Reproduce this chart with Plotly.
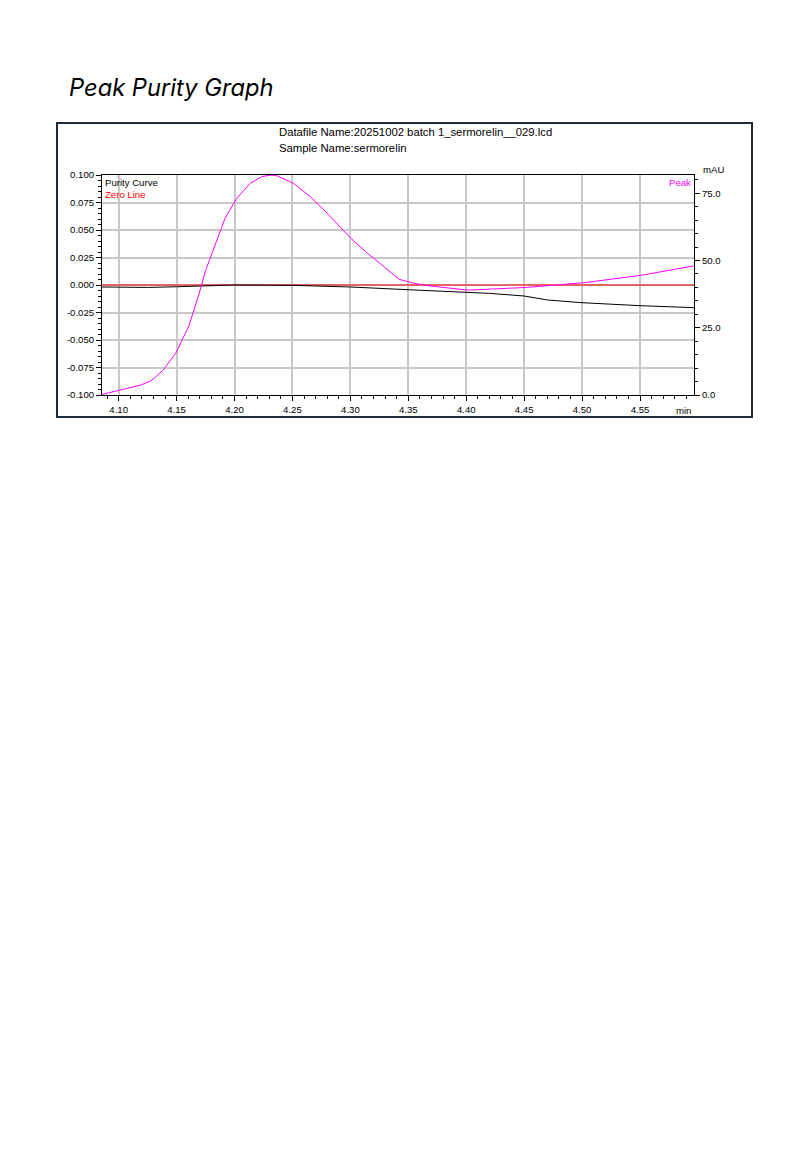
import plotly.graph_objects as go
import numpy as np

# ---------------- data ----------------
peak_time = [4.0856, 4.100, 4.119, 4.128, 4.1385, 4.1495, 4.1606, 4.1686, 4.1752, 4.1816,
             4.1918, 4.2019, 4.2135, 4.2236, 4.2320, 4.2366, 4.2510, 4.2655, 4.2786, 4.3003,
             4.3148, 4.3422, 4.3552, 4.3697, 4.4016, 4.4522, 4.5028, 4.5520, 4.5966]
peak_mau = [0.2, 1.6, 3.7, 5.3, 9.3, 15.7, 25.7, 36.5, 46.5, 53.9,
            65.7, 73.1, 78.7, 81.2, 81.8, 81.5, 78.7, 73.7, 68.2, 58.3,
            52.7, 43.0, 41.5, 40.5, 39.0, 40.0, 41.8, 44.6, 48.0]

purity_time = [4.0856, 4.100, 4.125, 4.150, 4.165, 4.180, 4.200, 4.250, 4.300, 4.350,
               4.400, 4.420, 4.450, 4.470, 4.500, 4.550, 4.5966]
purity_val = [-0.0018, -0.0020, -0.0022, -0.0016, -0.0010, -0.0003, 0.0000, -0.0003, -0.0018, -0.0043,
              -0.0066, -0.0076, -0.0100, -0.0136, -0.0161, -0.0188, -0.0206]

zero_time = [4.0856, 4.5966]
zero_val = [0.0, 0.0]

x_ticks = [4.10, 4.15, 4.20, 4.25, 4.30, 4.35, 4.40, 4.45, 4.50, 4.55]
x_labels = ["4.10", "4.15", "4.20", "4.25", "4.30", "4.35", "4.40", "4.45", "4.50", "4.55"]
y_ticks = [-0.100, -0.075, -0.050, -0.025, 0.000, 0.025, 0.050, 0.075, 0.100]
y_labels = ["-0.100", "-0.075", "-0.050", "-0.025", "0.000", "0.025", "0.050", "0.075", "0.100"]
y2_ticks = [0, 25, 50, 75]
y2_labels = ["0.0", "25.0", "50.0", "75.0"]

x_range = [4.0856, 4.5966]
y_range = [-0.100, 0.100]
y2_range = [0, 81.8]

datafile = "Datafile Name:20251002 batch 1_sermorelin__029.lcd"
sample = "Sample Name:sermorelin"

# ---------------- layout helpers ----------------
W, H = 810, 1170
L, R, T, B = 102, 694, 175, 395


def px(x):
    return (x - L) / (R - L)


def py(y):
    return (B - y) / (B - T)


FONT = "Liberation Sans, Arial, sans-serif"
tickfont = dict(family=FONT, size=9.6, color="black")

fig = go.Figure()

fig.add_trace(go.Scatter(x=zero_time, y=zero_val, mode="lines",
                         line=dict(color="#ff0000", width=1), name="Zero Line",
                         yaxis="y"))
fig.add_trace(go.Scatter(x=purity_time, y=purity_val, mode="lines",
                         line=dict(color="black", width=1), name="Purity Curve",
                         yaxis="y"))
fig.add_trace(go.Scatter(x=peak_time, y=peak_mau, mode="lines",
                         line=dict(color="#ff00ff", width=1), name="Peak",
                         yaxis="y2"))

x_minor = [round(v, 2) for v in np.arange(4.09, 4.60, 0.01)]
y_minor = [round(v, 3) for v in np.arange(-0.100, 0.1001, 0.005)]
y2_minor = list(range(0, 85, 5))

fig.update_layout(
    width=W, height=H, autosize=False,
    margin=dict(l=L, r=W - R, t=T, b=H - B, pad=0),
    paper_bgcolor="white", plot_bgcolor="white",
    showlegend=False,
    xaxis=dict(range=x_range, tickmode="array", tickvals=x_ticks, ticktext=x_labels,
               ticks="outside", ticklen=5, tickcolor="black", tickwidth=1,
               tickfont=tickfont,
               showgrid=True, gridcolor="#c8c8c8", gridwidth=2,
               showline=True, linecolor="black", linewidth=1, mirror=True,
               zeroline=False,
               minor=dict(tickmode="array", tickvals=x_minor, ticks="outside",
                          ticklen=3, tickcolor="black", showgrid=False)),
    yaxis=dict(range=y_range, tickmode="array", tickvals=y_ticks, ticktext=y_labels,
               ticks="outside", ticklen=5, tickcolor="black", tickwidth=1,
               tickfont=tickfont,
               showgrid=True, gridcolor="#c8c8c8", gridwidth=2,
               showline=True, linecolor="black", linewidth=1,
               zeroline=False,
               minor=dict(tickmode="array", tickvals=y_minor, ticks="outside",
                          ticklen=3, tickcolor="black", showgrid=False)),
    yaxis2=dict(range=y2_range, overlaying="y", side="right",
                tickmode="array", tickvals=y2_ticks, ticktext=y2_labels,
                ticks="outside", ticklen=5, tickcolor="black", tickwidth=1,
                tickfont=tickfont, showgrid=False, zeroline=False,
                showline=True, linecolor="black", linewidth=1,
                minor=dict(tickmode="array", tickvals=y2_minor, ticks="outside",
                           ticklen=3, tickcolor="black", showgrid=False)),
)

# outer frame
fig.add_shape(type="rect", xref="paper", yref="paper",
              x0=px(57), x1=px(752), y0=py(417), y1=py(123),
              line=dict(color="#1c2b3a", width=2), fillcolor="rgba(0,0,0,0)", layer="above")

ann = []
ann.append(dict(text="Peak Purity Graph", x=px(67), y=py(88), xanchor="left", yanchor="middle",
                font=dict(family="Inter, Noto Sans, sans-serif", size=23.7, color="black", style="italic")))
ann.append(dict(text=datafile, x=px(277), y=py(132), xanchor="left", yanchor="middle",
                font=dict(family=FONT, size=11.3, color="black")))
ann.append(dict(text=sample, x=px(277), y=py(147.5), xanchor="left", yanchor="middle",
                font=dict(family=FONT, size=11.3, color="black")))
ann.append(dict(text="Purity Curve", x=px(103), y=py(182), xanchor="left", yanchor="middle",
                font=dict(family=FONT, size=9.6, color="black")))
ann.append(dict(text="Zero Line", x=px(103), y=py(194), xanchor="left", yanchor="middle",
                font=dict(family=FONT, size=9.6, color="#ff0000")))
ann.append(dict(text="Peak", x=px(693), y=py(182), xanchor="right", yanchor="middle",
                font=dict(family=FONT, size=9.6, color="#ff00ff")))
ann.append(dict(text="mAU", x=px(701), y=py(169), xanchor="left", yanchor="middle",
                font=dict(family=FONT, size=9.6, color="black")))
ann.append(dict(text="min", x=px(693), y=py(410), xanchor="right", yanchor="middle",
                font=dict(family=FONT, size=9.6, color="black")))
for a in ann:
    a.update(xref="paper", yref="paper", showarrow=False, align="left")
fig.update_layout(annotations=ann)

fig.write_html("out.html")
